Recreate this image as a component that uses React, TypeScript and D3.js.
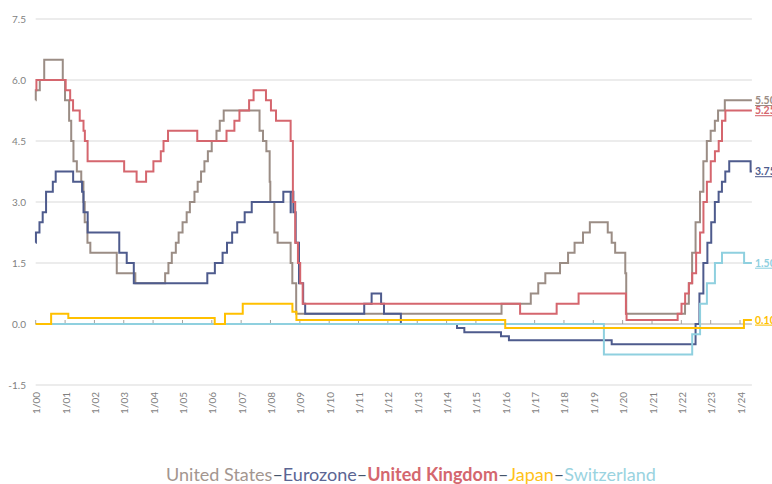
import * as d3 from 'd3';

type Pt = [string, number];

// step series, dates (change dates)
const usRates: Pt[] = [
  ['2000-01-01', 5.5], ['2000-01-02', 5.75], ['2000-02-21', 6.0], ['2000-04-16', 6.5],
  ['2000-12-03', 6.0], ['2000-12-31', 5.5], ['2001-02-20', 5.0], ['2001-03-18', 4.5],
  ['2001-04-15', 4.0], ['2001-05-27', 3.75], ['2001-07-21', 3.5], ['2001-08-17', 3.0],
  ['2001-09-02', 2.5], ['2001-10-06', 2.0], ['2001-11-11', 1.75], ['2002-10-06', 1.25],
  ['2003-05-25', 1.0], ['2004-05-30', 1.25], ['2004-07-10', 1.5], ['2004-08-21', 1.75],
  ['2004-10-10', 2.0], ['2004-11-14', 2.25], ['2005-01-02', 2.5], ['2005-02-22', 2.75],
  ['2005-04-03', 3.0], ['2005-05-30', 3.25], ['2005-07-09', 3.5], ['2005-08-20', 3.75],
  ['2005-10-01', 4.0], ['2005-11-13', 4.25], ['2005-12-31', 4.5], ['2006-02-28', 4.75],
  ['2006-04-10', 5.0], ['2006-05-29', 5.25], ['2007-08-18', 4.75], ['2007-09-30', 4.5],
  ['2007-11-11', 4.25], ['2007-12-22', 3.5], ['2007-12-30', 3.0], ['2008-02-18', 2.25],
  ['2008-03-30', 2.0], ['2008-09-08', 1.5], ['2008-09-29', 1.0], ['2008-11-16', 0.25],
  ['2015-11-16', 0.5], ['2016-11-14', 0.75], ['2017-02-15', 1.0], ['2017-05-14', 1.25],
  ['2017-11-13', 1.5], ['2018-02-21', 1.75], ['2018-05-13', 2.0], ['2018-08-26', 2.25],
  ['2018-11-19', 2.5], ['2019-06-30', 2.25], ['2019-08-18', 2.0], ['2019-09-30', 1.75],
  ['2020-02-03', 1.25], ['2020-02-15', 0.25], ['2022-02-16', 0.5], ['2022-04-04', 1.0],
  ['2022-05-15', 1.75], ['2022-06-27', 2.5], ['2022-08-21', 3.25], ['2022-10-02', 4.0],
  ['2022-11-14', 4.5], ['2023-01-01', 4.75], ['2023-02-22', 5.0], ['2023-04-03', 5.25],
  ['2023-06-26', 5.5],
];

const euroRates: Pt[] = [
  ['2000-01-01', 2.0], ['2000-01-04', 2.25], ['2000-02-17', 2.5], ['2000-03-28', 2.75],
  ['2000-05-09', 3.25], ['2000-08-01', 3.5], ['2000-09-06', 3.75], ['2001-04-11', 3.5],
  ['2001-07-31', 3.25], ['2001-08-18', 2.75], ['2001-10-09', 2.25], ['2002-11-06', 1.75],
  ['2003-02-07', 1.5], ['2003-05-06', 1.0], ['2005-11-06', 1.25], ['2006-02-08', 1.5],
  ['2006-05-15', 1.75], ['2006-07-09', 2.0], ['2006-09-11', 2.25], ['2006-11-13', 2.5],
  ['2007-02-14', 2.75], ['2007-05-13', 3.0], ['2008-06-09', 3.25], ['2008-09-08', 2.75],
  ['2008-09-10', 3.25], ['2008-10-12', 2.75], ['2008-11-10', 2.0], ['2008-12-21', 1.0],
  ['2009-02-11', 0.5], ['2009-03-08', 0.25], ['2011-03-13', 0.5], ['2011-06-13', 0.75],
  ['2011-10-09', 0.5], ['2011-11-14', 0.25], ['2012-06-11', 0.0], ['2014-05-11', -0.1],
  ['2014-08-10', -0.2], ['2015-11-09', -0.3], ['2016-02-16', -0.4], ['2019-08-18', -0.5],
  ['2022-06-27', 0.0], ['2022-08-14', 0.75], ['2022-10-02', 1.5], ['2022-11-21', 2.0],
  ['2023-01-08', 2.5], ['2023-02-22', 3.0], ['2023-04-10', 3.25], ['2023-05-21', 3.5],
  ['2023-07-02', 3.75], ['2023-08-20', 4.0], ['2024-05-12', 3.75],
];

const ukRates: Pt[] = [
  ['2000-01-01', 5.75], ['2000-01-10', 6.0], ['2001-01-08', 5.75], ['2001-03-05', 5.5],
  ['2001-04-10', 5.25], ['2001-07-02', 5.0], ['2001-08-18', 4.75], ['2001-09-04', 4.5],
  ['2001-10-08', 4.0], ['2003-01-06', 3.75], ['2003-06-10', 3.5], ['2003-10-06', 3.75],
  ['2004-01-05', 4.0], ['2004-04-06', 4.25], ['2004-05-10', 4.5], ['2004-07-05', 4.75],
  ['2005-07-04', 4.5], ['2006-07-03', 4.75], ['2006-10-09', 5.0], ['2006-12-11', 5.25],
  ['2007-04-10', 5.5], ['2007-06-05', 5.75], ['2007-11-06', 5.5], ['2008-01-07', 5.25],
  ['2008-03-10', 5.0], ['2008-09-08', 4.5], ['2008-10-06', 3.0], ['2008-11-04', 2.0],
  ['2008-12-08', 1.5], ['2009-01-05', 1.0], ['2009-02-05', 0.5], ['2016-07-04', 0.25],
  ['2017-10-02', 0.5], ['2018-07-02', 0.75], ['2020-02-11', 0.25], ['2020-02-19', 0.1],
  ['2021-11-16', 0.25], ['2022-01-03', 0.5], ['2022-02-17', 0.75], ['2022-04-05', 1.0],
  ['2022-05-16', 1.25], ['2022-07-04', 1.75], ['2022-08-22', 2.25], ['2022-10-03', 3.0],
  ['2022-11-15', 3.5], ['2023-01-02', 4.0], ['2023-02-23', 4.25], ['2023-04-11', 4.5],
  ['2023-05-22', 5.0], ['2023-07-03', 5.25],
];

const japanRates: Pt[] = [
  ['2000-01-01', 0.0], ['2000-07-11', 0.25], ['2001-02-10', 0.15], ['2006-02-06', 0.0],
  ['2006-06-14', 0.25], ['2007-01-21', 0.5], ['2008-09-30', 0.3], ['2008-11-19', 0.1],
  ['2016-01-01', -0.1], ['2024-02-19', 0.1],
];

const swissRates: Pt[] = [
  ['2000-01-01', 0.0], ['2019-05-13', -0.75], ['2022-05-16', -0.25], ['2022-08-22', 0.5],
  ['2022-11-15', 1.0], ['2023-02-23', 1.5], ['2023-05-22', 1.75], ['2024-02-21', 1.5],
];

const startDate = '2000-01-01';
const endDate = '2024-05-28';
const yTicks = [-1.5, 0, 1.5, 3.0, 4.5, 6.0, 7.5];
const tickYears = [
  2000, 2001, 2002, 2003, 2004, 2005, 2006, 2007, 2008, 2009, 2010, 2011, 2012,
  2013, 2014, 2015, 2016, 2017, 2018, 2019, 2020, 2021, 2022, 2023, 2024,
];

const series = [
  { name: 'United States', data: usRates, color: '#9b8d85', text: '#a3968f', bold: false },
  { name: 'Eurozone', data: euroRates, color: '#4e5b8d', text: '#5b6593', bold: false },
  { name: 'United Kingdom', data: ukRates, color: '#d5666e', text: '#d4676e', bold: true },
  { name: 'Japan', data: japanRates, color: '#ffc000', text: '#ffc21a', bold: false },
  { name: 'Switzerland', data: swissRates, color: '#8fd0df', text: '#9ad3e0', bold: false },
];
// drawing order: later on top
const drawOrder = ['United States', 'Eurozone', 'United Kingdom', 'Switzerland', 'Japan'];

const FONT = 'Lato, "Open Sans", sans-serif';
const parse = d3.timeParse('%Y-%m-%d');

export default function App() {
  const x = d3
    .scaleTime()
    .domain([parse('2000-01-01')!, parse('2024-01-01')!])
    .range([35.7, 740]);
  const y = d3.scaleLinear().domain([-1.5, 7.5]).range([385, 19]);

  const x0 = x(parse(startDate)!);
  const x1 = x(parse(endDate)!);

  const line = d3
    .line<[Date, number]>()
    .x((d) => x(d[0]))
    .y((d) => y(d[1]))
    .curve(d3.curveStepAfter);

  const pathFor = (data: Pt[]) => {
    const pts: [Date, number][] = data.map((d) => [parse(d[0])!, d[1]]);
    pts.push([parse(endDate)!, data[data.length - 1][1]]);
    return line(pts) || '';
  };

  return (
    <svg
      width={772}
      height={484}
      style={{ position: 'fixed', left: 0, top: 0, background: '#fff' }}
      fontFamily={FONT}
    >
      {/* gridlines */}
      {yTicks
        .filter((v) => v !== 0)
        .map((v) => (
          <line key={v} x1={x0} x2={x1} y1={y(v)} y2={y(v)} stroke="#d9d9d9" strokeWidth={1} />
        ))}
      {/* y labels */}
      {yTicks.map((v) => (
        <text
          key={'yl' + v}
          x={26}
          y={y(v)}
          dy="0.35em"
          textAnchor="end"
          fontSize={10}
          fill="#7f7f7f"
        >
          {v.toFixed(1)}
        </text>
      ))}
      {/* zero axis with ticks */}
      <line x1={x0} x2={x1} y1={y(0)} y2={y(0)} stroke="#a6a39f" strokeWidth={1} />
      {tickYears.map((yr) => {
        const tx = x(new Date(yr, 0, 1));
        return (
          <g key={yr}>
            <line x1={tx} x2={tx} y1={y(0) - 4} y2={y(0)} stroke="#a6a39f" strokeWidth={1} />
            <text
              transform={`translate(${tx + 1},392) rotate(-90)`}
              dy="0.35em"
              textAnchor="end"
              fontSize={10}
              fill="#7f7f7f"
            >
              {`1/${String(yr % 100).padStart(2, '0')}`}
            </text>
          </g>
        );
      })}
      {/* series */}
      {drawOrder.map((n) => {
        const s = series.find((d) => d.name === n)!;
        return (
          <path
            key={n}
            d={pathFor(s.data)}
            fill="none"
            stroke={s.color}
            strokeWidth={2}
            strokeLinejoin="miter"
          />
        );
      })}
      {/* end labels */}
      {series.map((s) => {
        const last = s.data[s.data.length - 1][1];
        return (
          <text
            key={'end' + s.name}
            x={755}
            y={y(last)}
            dy="0.35em"
            fontSize={10.5}
            fontWeight="bold"
            fill={s.color}
            textDecoration="underline"
          >
            {last.toFixed(2)}
          </text>
        );
      })}
      {/* legend */}
      <text x={411} y={481} textAnchor="middle" fontSize={18}>
        {series.map((s, i) => (
          <tspan key={'lg' + s.name}>
            {i > 0 && <tspan fill="#44546a">–</tspan>}
            <tspan fill={s.text} fontWeight={s.bold ? 'bold' : 'normal'}>
              {s.name}
            </tspan>
          </tspan>
        ))}
      </text>
    </svg>
  );
}
